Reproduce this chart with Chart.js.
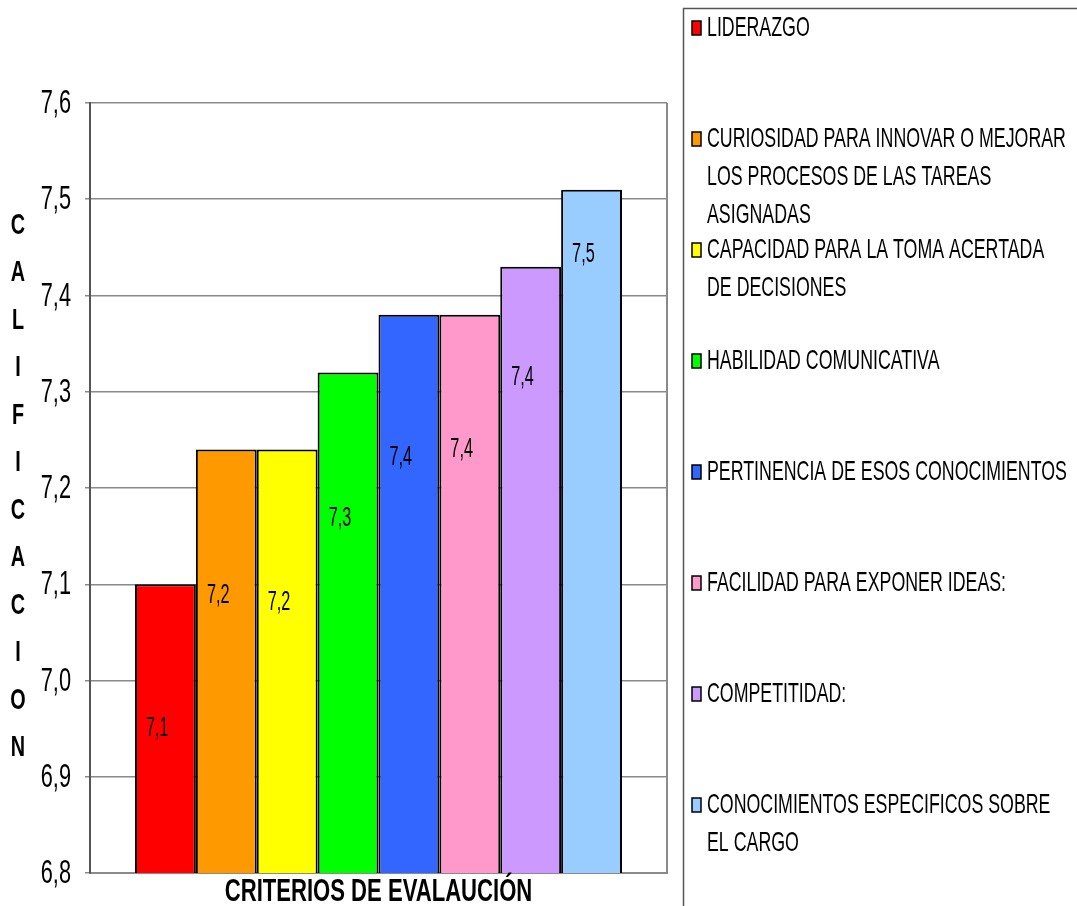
<!DOCTYPE html>
<html>
<head>
<meta charset="utf-8">
<script src="https://cdn.jsdelivr.net/npm/chart.js@4.4.1/dist/chart.umd.min.js"></script>
<style>
  html, body { margin: 0; padding: 0; background: #fff; }
  #wrap { position: relative; width: 1077px; height: 906px; }
</style>
</head>
<body>
<div id="wrap"><canvas id="califChart"></canvas></div>
<script>
// Fuente tipo Arial; se comprime en horizontal para imitar el Arial Narrow estirado del original
const FUENTE = "'Liberation Sans', Arial, sans-serif";

// Datos del grafico
const categorias = [''];
const criterios = [
    ['LIDERAZGO'],
    ['CURIOSIDAD PARA INNOVAR O MEJORAR', 'LOS PROCESOS DE LAS TAREAS', 'ASIGNADAS'],
    ['CAPACIDAD PARA LA TOMA ACERTADA', 'DE DECISIONES'],
    ['HABILIDAD COMUNICATIVA'],
    ['PERTINENCIA DE ESOS CONOCIMIENTOS'],
    ['FACILIDAD PARA EXPONER IDEAS:'],
    ['COMPETITIDAD:'],
    ['CONOCIMIENTOS ESPECIFICOS SOBRE', 'EL CARGO']
];
const calificaciones = [7.10, 7.24, 7.24, 7.32, 7.38, 7.38, 7.43, 7.51];
const colores = ['#FF0000', '#FF9900', '#FFFF00', '#00FF00', '#3366FF', '#FF99CC', '#CC99FF', '#99CCFF'];
const yMin = 6.8, yMax = 7.6, yPaso = 0.1;
const tituloY = 'CALIFICACION';
const tituloX = 'CRITERIOS DE EVALAUCIÓN';

const coma = v => v.toFixed(1).replace('.', ',');

// texto comprimido horizontalmente
function textoEstrecho(ctx, txt, x, y, font, sx, align) {
    ctx.save();
    ctx.translate(x, y);
    ctx.scale(sx, 1);
    ctx.font = font;
    ctx.textAlign = align || 'left';
    ctx.textBaseline = 'middle';
    ctx.fillStyle = '#000';
    ctx.fillText(txt, 0, 0);
    ctx.restore();
}

// Etiquetas de datos dentro de cada barra (desplazamiento en px desde el tope, como en Excel)
const etiquetasPlugin = {
    id: 'etiquetas',
    afterDatasetsDraw(chart, args, opts) {
        const ctx = chart.ctx;
        chart.data.datasets.forEach((ds, i) => {
            const bar = chart.getDatasetMeta(i).data[0];
            if (!bar) return;
            textoEstrecho(ctx, coma(ds.data[0]), bar.x - bar.width / 2 + 11, bar.y + opts.offsets[i],
                '28px ' + FUENTE, 0.58, 'left');
        });
    }
};

// Marco derecho, etiquetas del eje Y, titulos y leyenda en caja
const marcoPlugin = {
    id: 'marco',
    beforeDatasetsDraw(chart) {
        const { ctx, chartArea: a } = chart;
        ctx.save();
        ctx.strokeStyle = '#8a8a8a';
        ctx.lineWidth = 2;
        ctx.beginPath();
        ctx.moveTo(a.right, a.top);
        ctx.lineTo(a.right, a.bottom);
        ctx.stroke();
        ctx.restore();
    },
    afterDraw(chart) {
        const { ctx, chartArea: a } = chart;
        const ys = chart.scales.y;

        // etiquetas del eje Y
        ys.ticks.forEach(t => {
            textoEstrecho(ctx, coma(t.value), 71, ys.getPixelForValue(t.value) + 1, '33px ' + FUENTE, 0.66, 'right');
        });

        // titulo del eje X
        textoEstrecho(ctx, tituloX, (a.left + a.right) / 2, 892, 'bold 32px ' + FUENTE, 0.69, 'center');

        // titulo del eje Y, letra por letra
        const paso = 47.5;
        const letras = tituloY.split('');
        const y0 = (a.top + a.bottom) / 2 - 1.5 - paso * (letras.length - 1) / 2;
        letras.forEach((l, i) => textoEstrecho(ctx, l, 18, y0 + i * paso, 'bold 30px ' + FUENTE, 0.66, 'center'));

        // leyenda
        ctx.save();
        ctx.strokeStyle = '#555';
        ctx.lineWidth = 1.5;
        ctx.strokeRect(683.5, 8.5, 600, 1000);
        chart.data.datasets.forEach((ds, i) => {
            const yy = 28 + i * 111;
            ctx.fillStyle = ds.backgroundColor;
            ctx.fillRect(692, yy - 7, 9, 14);
            ctx.strokeStyle = '#000';
            ctx.lineWidth = 1.5;
            ctx.strokeRect(692, yy - 7, 9, 14);
            criterios[i].forEach((linea, k) => textoEstrecho(ctx, linea, 707, yy + k * 38, '28px ' + FUENTE, 0.635, 'left'));
        });
        ctx.restore();
    }
};

const datasets = criterios.map((c, i) => ({
    label: c.join(' '),
    data: [calificaciones[i]],
    backgroundColor: colores[i],
    borderColor: '#000',
    borderWidth: 2,
    categoryPercentage: 0.844,
    barPercentage: 1.0
}));

new Chart(document.getElementById('califChart'), {
    type: 'bar',
    data: { labels: categorias, datasets: datasets },
    plugins: [etiquetasPlugin, marcoPlugin],
    options: {
        responsive: true,
        maintainAspectRatio: false,
        animation: false,
        layout: { padding: { top: 103, right: 410, left: 0, bottom: 0 } },
        plugins: {
            legend: { display: false },
            tooltip: { enabled: false },
            etiquetas: { offsets: [144, 146, 153, 146, 143, 135, 111, 65] }
        },
        scales: {
            x: {
                grid: { display: false },
                border: { display: true, color: '#8a8a8a', width: 2 },
                ticks: { display: false },
                afterFit(scale) { scale.height = 33; }
            },
            y: {
                min: yMin,
                max: yMax,
                grid: { color: '#8a8a8a', lineWidth: 1.5, tickLength: 5 },
                border: { display: true, color: '#555', width: 2 },
                ticks: { stepSize: yPaso, display: false },
                afterFit(scale) { scale.width = 90; }
            }
        }
    }
});
</script>
</body>
</html>
